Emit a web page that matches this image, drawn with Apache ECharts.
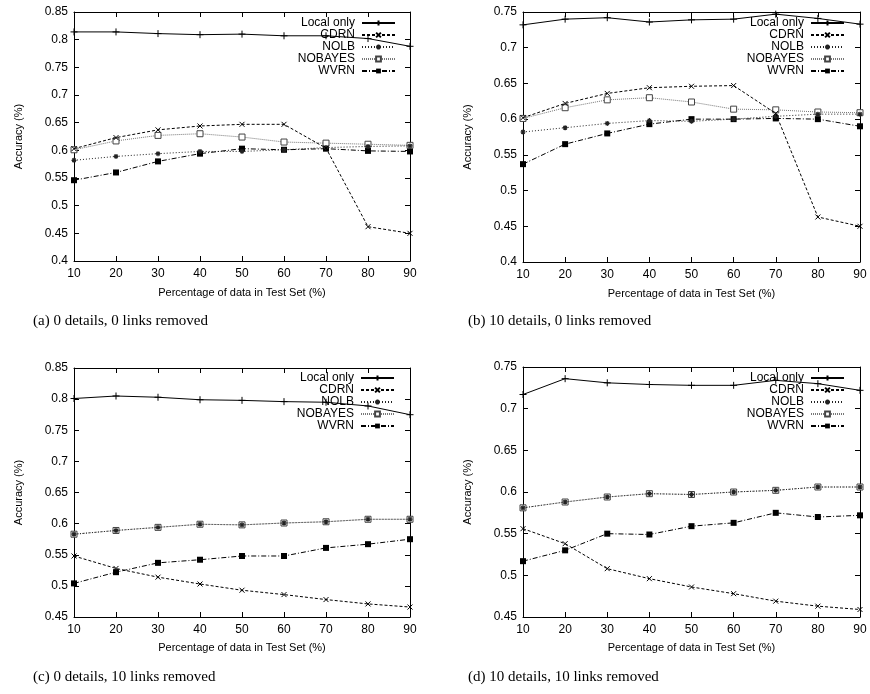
<!DOCTYPE html>
<html><head><meta charset="utf-8">
<script src="https://cdn.jsdelivr.net/npm/echarts@6/dist/echarts.min.js"></script>
<style>html,body{margin:0;padding:0;background:#fff}#c{width:870px;height:694px}</style>
</head><body><div id="c"></div>
<script>
const xValues = [10, 20, 30, 40, 50, 60, 70, 80, 90];
const seriesNames = ['Local only', 'CDRN', 'NOLB', 'NOBAYES', 'WVRN'];
const captions = ['(a) 0 details, 0 links removed', '(b) 10 details, 0 links removed',
                  '(c) 0 details, 10 links removed', '(d) 10 details, 10 links removed'];
const xAxisTitle = 'Percentage of data in Test Set (%)';
const yAxisTitle = 'Accuracy (%)';

// (a) 0 details, 0 links removed
const aLocal   = [0.814, 0.814, 0.811, 0.809, 0.810, 0.807, 0.807, 0.802, 0.788];
const aCDRN    = [0.603, 0.623, 0.637, 0.644, 0.647, 0.647, 0.604, 0.462, 0.450];
const aNOLB    = [0.582, 0.589, 0.594, 0.598, 0.598, 0.601, 0.605, 0.607, 0.608];
const aNOBAYES = [0.601, 0.617, 0.627, 0.630, 0.624, 0.615, 0.613, 0.611, 0.609];
const aWVRN    = [0.546, 0.560, 0.580, 0.594, 0.603, 0.601, 0.603, 0.599, 0.598];
// (b) 10 details, 0 links removed
const bLocal   = [0.732, 0.740, 0.742, 0.736, 0.739, 0.740, 0.747, 0.741, 0.733];
const bCDRN    = [0.602, 0.622, 0.636, 0.644, 0.646, 0.647, 0.608, 0.463, 0.450];
const bNOLB    = [0.582, 0.588, 0.594, 0.598, 0.597, 0.600, 0.604, 0.607, 0.607];
const bNOBAYES = [0.601, 0.616, 0.627, 0.630, 0.624, 0.614, 0.613, 0.610, 0.609];
const bWVRN    = [0.537, 0.565, 0.580, 0.593, 0.600, 0.600, 0.601, 0.600, 0.590];
// (c) 0 details, 10 links removed
const cLocal   = [0.801, 0.805, 0.803, 0.799, 0.798, 0.796, 0.795, 0.789, 0.775];
const cCDRN    = [0.548, 0.528, 0.514, 0.503, 0.493, 0.486, 0.478, 0.471, 0.466];
const cNOLB    = [0.583, 0.589, 0.594, 0.599, 0.598, 0.601, 0.603, 0.607, 0.607];
const cNOBAYES = [0.583, 0.589, 0.594, 0.599, 0.598, 0.601, 0.603, 0.607, 0.607];
const cWVRN    = [0.504, 0.522, 0.537, 0.542, 0.548, 0.548, 0.561, 0.567, 0.575];
// (d) 10 details, 10 links removed
const dLocal   = [0.717, 0.736, 0.731, 0.729, 0.728, 0.728, 0.734, 0.730, 0.722];
const dCDRN    = [0.556, 0.538, 0.508, 0.496, 0.486, 0.478, 0.469, 0.463, 0.459];
const dNOLB    = [0.581, 0.588, 0.594, 0.598, 0.597, 0.600, 0.602, 0.606, 0.606];
const dNOBAYES = [0.581, 0.588, 0.594, 0.598, 0.597, 0.600, 0.602, 0.606, 0.606];
const dWVRN    = [0.517, 0.530, 0.550, 0.549, 0.559, 0.563, 0.575, 0.570, 0.572];

const yMins = [0.4, 0.4, 0.45, 0.45];
const yMaxs = [0.85, 0.75, 0.85, 0.75];

const panels = [
  [aLocal, aCDRN, aNOLB, aNOBAYES, aWVRN],
  [bLocal, bCDRN, bNOLB, bNOBAYES, bWVRN],
  [cLocal, cCDRN, cNOLB, cNOBAYES, cWVRN],
  [dLocal, dCDRN, dNOLB, dNOBAYES, dWVRN]
];

const grids = [
  {left: 74, top: 12, width: 336, height: 249},
  {left: 523, top: 12, width: 337, height: 250},
  {left: 74, top: 368, width: 336, height: 249},
  {left: 523, top: 367, width: 337, height: 250}
];
const legendPos = [
  {right: 474, top: 17},
  {right: 25, top: 17},
  {right: 475, top: 372},
  {right: 25, top: 372}
];
const captionPos = [
  {left: 33, top: 314}, {left: 468, top: 314},
  {left: 33, top: 670}, {left: 468, top: 670}
];
const xNameGap = [26, 26, 25, 25];

const FONT = 'Liberation Sans';
const plusPath = 'path://M5,0L5,10M0,5L10,5';
const crossPath = 'path://M0,0L10,10M10,0L0,10';
const starPath = 'path://M5,0L5,10M0,5L10,5M1.5,1.5L8.5,8.5M8.5,1.5L1.5,8.5';

const styles = [
  {symbol: plusPath, symbolSize: 7, lineStyle: {color: '#000', width: 1, type: 'solid'},
   itemStyle: {color: 'rgba(0,0,0,0)', borderColor: '#000', borderWidth: 1}},
  {symbol: crossPath, symbolSize: 5, lineStyle: {color: '#000', width: 1, type: [3, 2]},
   itemStyle: {color: 'rgba(0,0,0,0)', borderColor: '#000', borderWidth: 1}},
  {symbol: starPath, symbolSize: 5, lineStyle: {color: '#222', width: 1, type: [1, 2]},
   itemStyle: {color: 'rgba(0,0,0,0)', borderColor: '#222', borderWidth: 1.2}},
  {symbol: 'rect', symbolSize: 6, lineStyle: {color: '#777', width: 1, type: [1, 1]},
   itemStyle: {color: '#fff', borderColor: '#444', borderWidth: 1}},
  {symbol: 'rect', symbolSize: 6, lineStyle: {color: '#000', width: 1, type: [5, 2, 1, 2]},
   itemStyle: {color: '#000', borderColor: '#000', borderWidth: 0}}
];

const option = {
  animation: false,
  backgroundColor: '#fff',
  grid: grids.map(g => Object.assign({containLabel: false}, g)),
  title: [],
  legend: [],
  xAxis: [],
  yAxis: [],
  series: []
};

const tickStyle = {show: true, inside: true, length: 5, lineStyle: {color: '#000', width: 1}};
const lineAxis = {show: true, lineStyle: {color: '#000', width: 1}};

for (let p = 0; p < 4; p++) {
  option.xAxis.push({
    type: 'value', gridIndex: p, position: 'bottom', min: 10, max: 90, interval: 10,
    name: xAxisTitle, nameLocation: 'middle', nameGap: xNameGap[p],
    nameTextStyle: {color: '#000', fontFamily: FONT, fontSize: 11},
    axisLine: lineAxis, axisTick: tickStyle, splitLine: {show: false},
    axisLabel: {color: '#000', fontFamily: FONT, fontSize: 12, margin: 7}
  });
  option.xAxis.push({
    type: 'value', gridIndex: p, position: 'top', min: 10, max: 90, interval: 10,
    axisLine: lineAxis, axisTick: tickStyle, splitLine: {show: false}, axisLabel: {show: false}
  });
  option.yAxis.push({
    type: 'value', gridIndex: p, position: 'left', min: yMins[p], max: yMaxs[p], interval: 0.05,
    name: yAxisTitle, nameLocation: 'middle', nameGap: 50,
    nameTextStyle: {color: '#000', fontFamily: FONT, fontSize: 11},
    axisLine: lineAxis, axisTick: tickStyle, splitLine: {show: false},
    axisLabel: {color: '#000', fontFamily: FONT, fontSize: 12, margin: 6,
      formatter: v => String(Math.round(v * 100) / 100)}
  });
  option.yAxis.push({
    type: 'value', gridIndex: p, position: 'right', min: yMins[p], max: yMaxs[p], interval: 0.05,
    axisLine: lineAxis, axisTick: tickStyle, splitLine: {show: false}, axisLabel: {show: false}
  });
  option.title.push(Object.assign({
    text: captions[p],
    textStyle: {fontFamily: 'Liberation Serif', fontSize: 15, fontWeight: 'normal', color: '#000'},
    padding: 0
  }, captionPos[p]));
  option.legend.push(Object.assign({
    orient: 'vertical', align: 'right', padding: 0, itemGap: 0,
    itemWidth: 33, itemHeight: 6, selectedMode: false,
    textStyle: {fontFamily: FONT, fontSize: 12, color: '#000', lineHeight: 12, padding: [0, 2, 0, 0]},
    data: seriesNames
  }, legendPos[p]));
  for (let s = 0; s < 5; s++) {
    const vals = panels[p][s];
    option.series.push(Object.assign({
      type: 'line', name: seriesNames[s], xAxisIndex: p * 2, yAxisIndex: p * 2,
      data: xValues.map((x, i) => [x, vals[i]]),
      showSymbol: true, symbolKeepAspect: true, z: 10 - s,
      emphasis: {disabled: true}
    }, JSON.parse(JSON.stringify(styles[s]))));
  }
}

const chart = echarts.init(document.getElementById('c'), null, {renderer: 'canvas'});
chart.setOption(option);
</script>
</body></html>
